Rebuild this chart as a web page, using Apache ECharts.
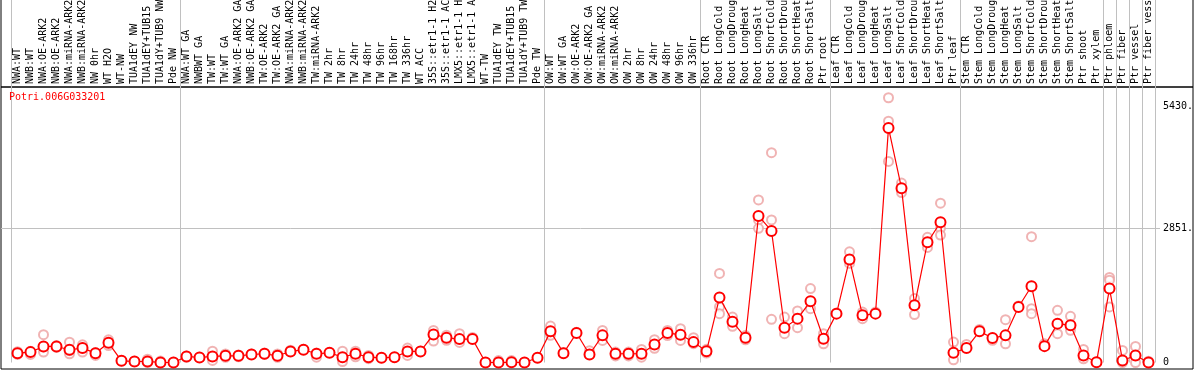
<!DOCTYPE html>
<html>
<head>
<meta charset="utf-8">
<script src="https://cdn.jsdelivr.net/npm/echarts@6/dist/echarts.min.js"></script>
<style>
  html, body { margin: 0; padding: 0; background: #fff; }
  #main { width: 1194px; height: 370px; }
</style>
</head>
<body>
<div id="main"></div>
<script>
// sample names, one per column
var categories = [
  'NWA:WT', 'NWB:WT', 'NWA:OE-ARK2', 'NWB:OE-ARK2', 'NWA:miRNA-ARK2', 'NWB:miRNA-ARK2',
  'NW 0hr', 'WT H2O', 'WT-NW', 'TUA1dEY NW', 'TUA1dEY+TUB15 NW', 'TUA1dY+TUB9 NW', 'Pde NW',
  'NWA:WT GA', 'NWBWT GA', 'TW:WT', 'TW:WT GA', 'NWA:OE-ARK2 GA', 'NWB:OE-ARK2 GA',
  'TW:OE-ARK2', 'TW:OE-ARK2 GA', 'NWA:miRNA-ARK2 GA', 'NWB:miRNA-ARK2 GA', 'TW:miRNA-ARK2',
  'TW 2hr', 'TW 8hr', 'TW 24hr', 'TW 48hr', 'TW 96hr', 'TW 168hr', 'TW 336hr', 'WT ACC',
  '35S::etr1-1 H2O', '35S::etr1-1 ACC', 'LMX5::etr1-1 H2O', 'LMX5::etr1-1 ACC', 'WT-TW',
  'TUA1dEY TW', 'TUA1dEY+TUB15 TW', 'TUA1dY+TUB9 TW', 'Pde TW',
  'OW:WT', 'OW:WT GA', 'OW:OE-ARK2', 'OW:OE-ARK2 GA', 'OW:miRNA-ARK2', 'OW:miRNA-ARK2 GA',
  'OW 2hr', 'OW 8hr', 'OW 24hr', 'OW 48hr', 'OW 96hr', 'OW 336hr',
  'Root CTR', 'Root LongCold', 'Root LongDrought', 'Root LongHeat', 'Root LongSalt',
  'Root ShortCold', 'Root ShortDrought', 'Root ShortHeat', 'Root ShortSalt', 'Ptr root',
  'Leaf CTR', 'Leaf LongCold', 'Leaf LongDrought', 'Leaf LongHeat', 'Leaf LongSalt',
  'Leaf ShortCold', 'Leaf ShortDrought', 'Leaf ShortHeat', 'Leaf ShortSalt', 'Ptr leaf',
  'Stem CTR', 'Stem LongCold', 'Stem LongDrought', 'Stem LongHeat', 'Stem LongSalt',
  'Stem ShortCold', 'Stem ShortDrought', 'Stem ShortHeat', 'Stem ShortSalt', 'Ptr shoot',
  'Ptr xylem', 'Ptr phloem', 'Ptr fiber', 'Ptr vessel', 'Ptr fiber vessel'
];

// mean expression per sample
var means = [
  198, 220, 340, 340, 270, 305, 198, 418, 35, 21, 21, 2, 0,
  128, 106, 128, 142, 142, 170, 185, 142, 234, 270, 185, 206, 113, 185, 113, 100, 113,
  234, 234, 596, 525, 496, 496, 0, 0, 5, 0, 100,
  660, 198, 624, 170, 575, 185, 185, 185, 383, 624, 589, 432,
  240, 1377, 866, 525, 3107, 2788, 738, 930, 1298, 504,
  1036, 2185, 1000, 1036, 4973, 3696, 1213, 2547, 2973, 206,
  305, 660, 518, 575, 1177, 1617, 347, 824, 788, 149, 7,
  1568, 43, 149, 0
];

// single replicates per sample
var replicates = [
  [190, 230, 170], [240, 170], [590, 220, 330], [360, 320], [430, 185, 250], [375, 220, 310],
  [150, 210], [480, 360], [40, 30], [25, 20], [70, 0], [30, 0], [5],
  [140, 110], [110], [240, 45], [180, 110], [160, 120], [180], [200, 170], [180, 110],
  [260], [280], [113, 200], [210], [240, 21], [240, 120], [150, 80], [100], [113],
  [305, 150], [240], [680, 454], [580, 470], [610, 425], [530], [0], [40], [40], [0], [100],
  [773, 575, 650], [210], [640], [250], [680, 468], [220, 140], [220, 140], [276, 113],
  [482, 300], [680, 570], [717, 468], [525, 400],
  [280, 200], [1887, 1177, 1036], [964, 766], [570, 480], [3447, 3022, 2845],
  [4447, 3022, 915], [964, 610], [1092, 738], [1568, 1142], [610, 397],
  [1050], [2347, 2100], [1070, 930], [1070], [5612, 5114, 4262], [3803, 3603],
  [1355, 1015], [2653, 2440], [3377, 2845, 2702], [432, 57],
  [383], [700], [470], [908, 397], [1200], [2667, 1142, 1036], [400], [1107, 610],
  [979, 681], [276, 78], [10],
  [1802, 1745, 1177], [255, 0], [340, 0], [28]
];

// y axis labels, the one grid line, and the first sample of each group
var yLabels = [0, 2851, 5430];
var yGrid = [2851];
var yMax = 5840;
var groupStarts = [0, 13, 41, 53, 63, 73, 84, 85, 86, 87];
var geneId = 'Potri.006G033201';

var mono = 'DejaVu Sans Mono';
var sepLine = {
  show: true,
  interval: function (index) { return groupStarts.indexOf(index) >= 0; },
  lineStyle: { color: '#c0c0c0', width: 1 }
};

var repPoints = [];
replicates.forEach(function (list, i) {
  list.forEach(function (v) { repPoints.push([i, v]); });
});

var myChart = echarts.init(document.getElementById('main'));
myChart.setOption({
  animation: false,
  backgroundColor: '#fff',
  title: {
    text: geneId,
    left: 9,
    top: 92,
    padding: 0,
    textStyle: { color: '#ff0000', fontFamily: mono, fontSize: 10, fontWeight: 'normal' }
  },
  grid: [
    // outer frame, plot part
    { left: 1, right: 1, top: 87, bottom: 1, show: true, borderColor: '#000', borderWidth: 1, outerBoundsMode: 'none' },
    // outer frame, label part (top edge pushed off the page)
    { left: 1, right: 1, top: -3, height: 90, show: true, borderColor: '#000', borderWidth: 1, outerBoundsMode: 'none' },
    // y labels and the value grid line
    { left: 1, right: 34, top: 87, bottom: 7.5, outerBoundsMode: 'none' },
    // separators behind the sample names
    { left: 11, width: 1144, top: 0, height: 87, outerBoundsMode: 'none' },
    // data
    { left: 11, width: 1144, top: 87, bottom: 7.5, outerBoundsMode: 'none' }
  ],
  xAxis: [
    { gridIndex: 2, type: 'value', show: false },
    {
      gridIndex: 3, type: 'category', data: categories,
      axisLine: { show: false }, axisTick: { show: false }, axisLabel: { show: false },
      splitLine: sepLine
    },
    {
      gridIndex: 4, type: 'category', data: categories, position: 'top',
      axisLine: { show: false }, axisTick: { show: false },
      axisLabel: {
        interval: 0, rotate: 90, margin: 3,
        color: '#000', fontFamily: mono, fontSize: 10
      },
      splitLine: sepLine
    }
  ],
  yAxis: [
    {
      gridIndex: 2, type: 'value', position: 'right', min: 0, max: yMax,
      axisLine: { show: false },
      axisTick: { show: false, customValues: yGrid },
      axisLabel: {
        customValues: yLabels, margin: 3, color: '#000', fontFamily: mono, fontSize: 10,
        formatter: function (v) { return v === 0 ? '0' : v + '.'; }
      },
      splitLine: { show: true, lineStyle: { color: '#c0c0c0', width: 1 } }
    },
    { gridIndex: 3, type: 'value', show: false },
    { gridIndex: 4, type: 'value', min: 0, max: yMax, show: false }
  ],
  series: [
    {
      name: 'replicates', type: 'scatter', xAxisIndex: 2, yAxisIndex: 2,
      data: repPoints, symbol: 'emptyCircle', symbolSize: 9,
      itemStyle: { color: 'rgb(236,160,160)', borderWidth: 1.2 }
    },
    {
      name: 'mean', type: 'line', xAxisIndex: 2, yAxisIndex: 2,
      data: means, symbol: 'emptyCircle', symbolSize: 10,
      lineStyle: { color: '#ff0000', width: 1.2 },
      itemStyle: { color: '#ff0000', borderWidth: 1.5 }
    },
    {
      name: 'mean ring', type: 'scatter', xAxisIndex: 2, yAxisIndex: 2,
      data: means, symbol: 'emptyCircle', symbolSize: 6,
      itemStyle: { color: '#000', borderWidth: 1 }
    }
  ]
});
</script>
</body>
</html>
